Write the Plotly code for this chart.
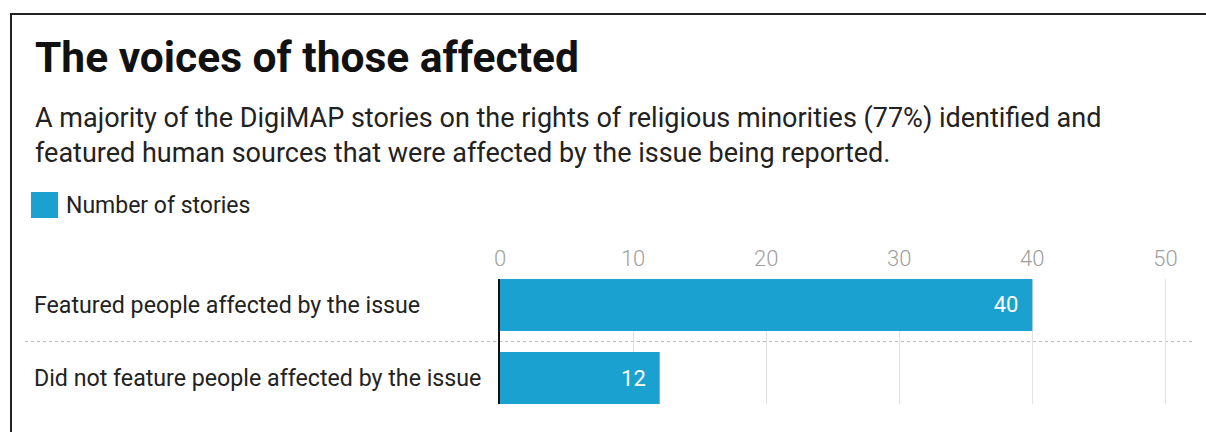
import plotly.graph_objects as go

# ---- data ----
categories = ["Featured people affected by the issue",
              "Did not feature people affected by the issue"]
values = [40, 12]
series_name = "Number of stories"
tick_vals = [0, 10, 20, 30, 40, 50]
title_text = "The voices of those affected"
subtitle_text = ("A majority of the DigiMAP stories on the rights of religious minorities (77%) identified and"
                 "<br>featured human sources that were affected by the issue being reported.")

# ---- layout geometry (pixels) ----
W, H = 1206, 432
ML, MR, MT, MB = 500, 14, 279, 28
PW = W - ML - MR
PH = H - MT - MB
BAR_COLOR = "#1aa1cf"
FONT = "Roboto"


def px(x):
    return (x - ML) / PW


def py(y):
    return (H - MB - y) / PH


fig = go.Figure()
fig.add_trace(go.Bar(
    x=values, y=categories, orientation="h",
    marker=dict(color=BAR_COLOR, line=dict(width=0)),
    name=series_name, showlegend=False,
    text=values, texttemplate="%{x}\u00a0\u00a0",
    textposition="inside", insidetextanchor="end",
    textfont=dict(family=FONT, size=22, color="white"),
    constraintext="none", cliponaxis=False,
))

annotations = [
    dict(text="<b>" + title_text + "</b>", x=px(33), y=py(57), xref="paper", yref="paper",
         xanchor="left", yanchor="middle", showarrow=False,
         font=dict(family=FONT, size=42.5, color="#111111")),
    dict(text=subtitle_text, x=px(33), y=py(136), xref="paper", yref="paper",
         xanchor="left", yanchor="middle", showarrow=False, align="left",
         font=dict(family=FONT, size=27, color="#222222")),
    dict(text=series_name, x=px(64), y=py(205), xref="paper", yref="paper",
         xanchor="left", yanchor="middle", showarrow=False,
         font=dict(family=FONT, size=23, color="#222222")),
]
for c in categories:
    annotations.append(dict(text=c, x=px(32), y=c, xref="paper", yref="y",
                            xanchor="left", yanchor="middle", showarrow=False,
                            font=dict(family=FONT, size=23.2, color="#222222")))

shapes = [
    # legend swatch
    dict(type="rect", xref="paper", yref="paper", x0=px(31), x1=px(58), y0=py(192), y1=py(218),
         fillcolor=BAR_COLOR, line=dict(width=0)),
    # dotted separator between categories
    dict(type="line", xref="paper", yref="y", x0=px(25), x1=1, y0=0.5, y1=0.5,
         line=dict(color="#bbbbbb", width=1, dash="dot"), layer="below"),
    # frame lines
    dict(type="line", xref="paper", yref="paper", x0=px(10), x1=px(W + 5), y0=py(14), y1=py(14),
         line=dict(color="#222222", width=2)),
    dict(type="line", xref="paper", yref="paper", x0=px(11), x1=px(11), y0=py(14), y1=py(H + 5),
         line=dict(color="#222222", width=2)),
]

fig.update_layout(
    width=W, height=H,
    margin=dict(l=ML, r=MR, t=MT, b=MB, pad=0),
    paper_bgcolor="white", plot_bgcolor="white",
    bargap=0.29,
    showlegend=False,
    font=dict(family=FONT),
    annotations=annotations,
    shapes=shapes,
    xaxis=dict(range=[0, 52], side="top", tickvals=tick_vals,
               showgrid=True, gridcolor="#e2e2e2", gridwidth=1,
               zeroline=False, showline=False, ticks="",
               ticklabelstandoff=8,
               tickfont=dict(family=FONT, size=22, color="#a0a0a0", weight=300)),
    yaxis=dict(type="category", categoryorder="array", categoryarray=categories,
               range=[1.355, -0.355], showticklabels=False, showgrid=False,
               zeroline=False, showline=True, linecolor="#111111", linewidth=1.5,
               layer="above traces", ticks=""),
)

fig.write_html("out.html",
               config={"displayModeBar": False},
               post_script="document.body.style.margin='0';document.body.style.overflow='hidden';")
